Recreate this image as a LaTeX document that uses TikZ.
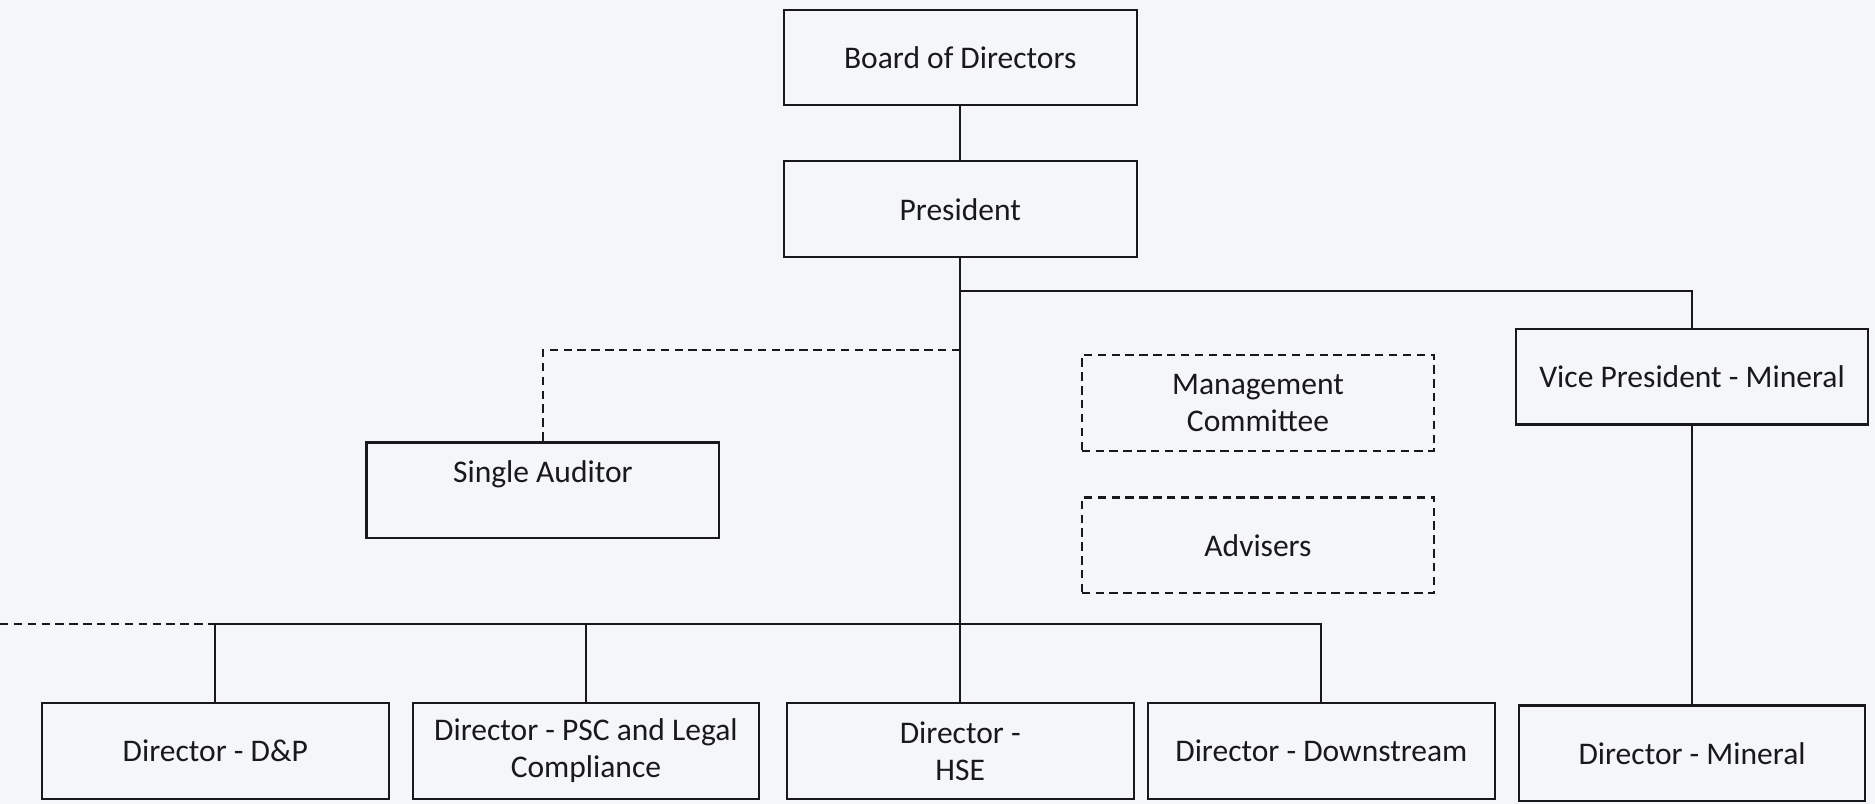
\documentclass[tikz,border=0pt]{standalone}
\usepackage{fontspec}
\setmainfont{Carlito}
\usepackage{xcolor}
\usetikzlibrary{positioning}
\definecolor{paper}{RGB}{245,246,248}
\definecolor{ink}{RGB}{25,25,28}

\begin{document}
\begin{tikzpicture}[x=0.02cm, y=-0.02cm,
    every node/.style={font=\fontsize{15}{17.6}\selectfont, text=ink},
    unit/.style={draw=ink, line width=1pt, minimum width=5.9cm, minimum height=1.6cm, inner sep=0pt, align=center},
    director/.style={unit, minimum width=5.8cm},
    board/.style={unit, dashed, dash pattern=on 4pt off 2.6pt},
    link/.style={draw=ink, line width=1pt},
    dotlink/.style={link, dash pattern=on 4pt off 2.6pt}]
          \fill[paper] (0,0) rectangle (1568,672);
          \useasboundingbox (0,0) rectangle (1568,672);

          \node[unit] (Board) at (803,48) {Board of Directors};
          \node[unit] (President) at (803,175) {President};
          \node[unit] (VicePresident) at (1415,315) {Vice President - Mineral};
          \node[unit] (Auditor) at (454,410) {Single Auditor\\ \mbox{}};

          \node[board] (Committee) at (1052,337) {Management\\Committee};
          \node[board] (Advisers) at (1052,456) {Advisers};

          \node[director] (DirDP) at (180,628) {Director - D\&P};
          \node[director] (DirPSC) at (490,628) {Director - PSC and Legal\\Compliance};
          \node[director] (DirHSE) at (803,628) {Director -\\HSE};
          \node[director] (DirDownstream) at (1105,628) {Director - Downstream};
          \node[director] (DirMineral) at (1415,630) {Director - Mineral};

          % bus heights
          \coordinate (VPBus) at (0,243);
          \coordinate (AuditBus) at (0,293);
          \coordinate (DirBus) at (0,522);

          \draw[link] (Board) -- (President);
          \draw[link] (President) -- (DirHSE);
          \draw[link] (President.south |- VPBus) -- (VicePresident.north |- VPBus) -- (VicePresident.north);
          \draw[link] (VicePresident) -- (DirMineral);

          \draw[dotlink] (President.south |- AuditBus) -- (Auditor.north |- AuditBus) -- (Auditor.north);

          \draw[dotlink] (DirBus) -- (DirDP.north |- DirBus);
          \draw[link] (DirDP.north) -- (DirDP.north |- DirBus) -- (DirDownstream.north |- DirBus) -- (DirDownstream.north);
          \draw[link] (DirPSC.north) -- (DirPSC.north |- DirBus);

        \end{tikzpicture}
\end{document}
